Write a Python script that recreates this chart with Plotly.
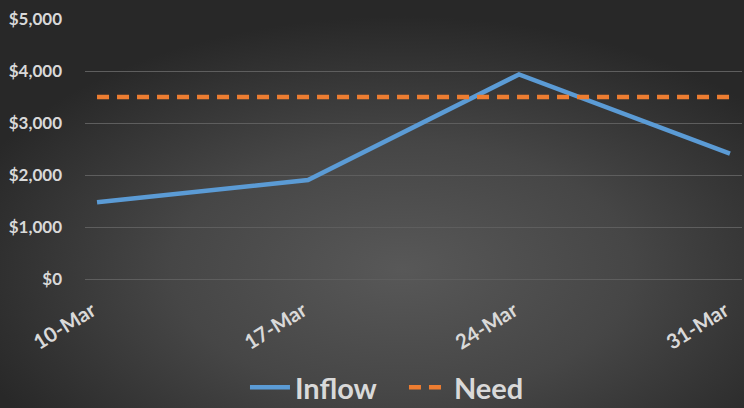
import base64
import plotly.graph_objects as go

categories = ["10-Mar", "17-Mar", "24-Mar", "31-Mar"]
inflow = [1475, 1905, 3935, 2410]
need = [3500, 3500, 3500, 3500]
y_ticks = [0, 1000, 2000, 3000, 4000, 5000]
y_tick_labels = [f"${v:,}" for v in y_ticks]

W, H = 744, 408
ML, MR, MT, MB = 85, 2, 19, 129
PW, PH = W - ML - MR, H - MT - MB

svg = f'''<svg xmlns="http://www.w3.org/2000/svg" width="{W}" height="{H}" viewBox="0 0 {W} {H}" preserveAspectRatio="none">
<defs><radialGradient id="g" cx="0.54" cy="0.66" r="0.62" gradientUnits="objectBoundingBox">
<stop offset="0" stop-color="#585858"/><stop offset="0.5" stop-color="#464646"/><stop offset="1" stop-color="#282828"/>
</radialGradient></defs>
<rect width="{W}" height="{H}" fill="url(#g)"/></svg>'''
src = "data:image/svg+xml;base64," + base64.b64encode(svg.encode()).decode()

font_family = "Lato, 'Open Sans', sans-serif"
txt = "#d9d9d9"

fig = go.Figure()
fig.add_trace(go.Scatter(x=categories, y=inflow, name="Inflow", mode="lines",
                         line=dict(color="#5b9bd5", width=4.5)))
fig.add_trace(go.Scatter(x=categories, y=need, name="Need", mode="lines",
                         line=dict(color="#ed7d31", width=4.5, dash="12px,8px")))

fig.update_layout(
    width=W, height=H,
    margin=dict(l=ML, r=MR, t=MT, b=MB, autoexpand=False),
    paper_bgcolor="#303030",
    plot_bgcolor="rgba(0,0,0,0)",
    images=[dict(source=src, xref="paper", yref="paper",
                 x=-ML / PW, y=1 + MT / PH, sizex=W / PW, sizey=H / PH,
                 xanchor="left", yanchor="top", sizing="stretch", layer="below")],
    showlegend=True,
    legend=dict(orientation="h", x=0.2435, xanchor="left", y=-0.515, yanchor="bottom",
                font=dict(family=font_family, size=29, color=txt, weight="bold"),
                bgcolor="rgba(0,0,0,0)", itemwidth=40, entrywidth=104, entrywidthmode="pixels"),
    xaxis=dict(type="category", range=[-0.057, 3.057], showgrid=False, showline=False,
               zeroline=False, tickangle=-32, ticklabelstandoff=15, ticklabelshift=-5,
               automargin=False,
               tickfont=dict(family=font_family, size=20.5, color=txt, weight="bold")),
    yaxis=dict(range=[0, 5000], tickvals=y_ticks, ticktext=y_tick_labels,
               showgrid=True, gridcolor="#5e5e5e", gridwidth=1, zeroline=True,
               zerolinecolor="#5e5e5e", zerolinewidth=1, showline=False,
               ticklabelstandoff=22, automargin=False,
               tickfont=dict(family=font_family, size=17, color=txt, weight="bold")),
)

fig.write_html("out.html", config={"displayModeBar": False},
               post_script="document.body.style.margin='0';document.body.style.overflow='hidden';")
